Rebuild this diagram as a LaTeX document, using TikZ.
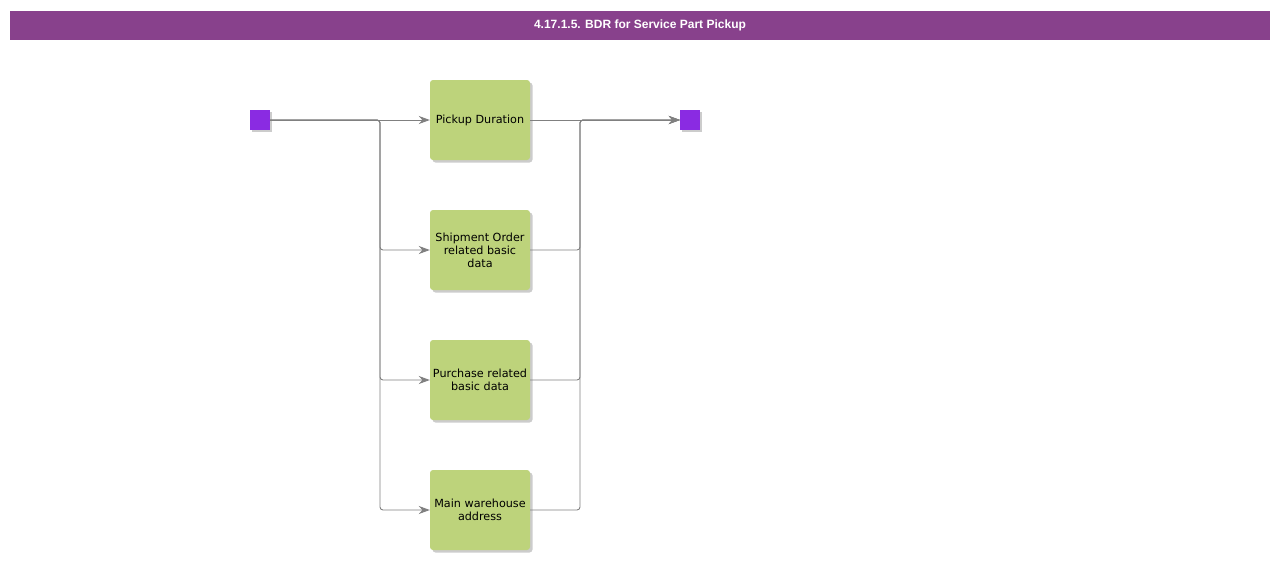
\documentclass[tikz,border=0pt]{standalone}
\usepackage{fontspec}
\setmainfont{DejaVu Sans}
\newfontfamily\titlefont{Liberation Sans}
\usetikzlibrary{arrows.meta,shadows}
\definecolor{titlebg}{RGB}{136,65,140}
\definecolor{boxgreen}{RGB}{189,211,123}
\definecolor{termviolet}{RGB}{138,43,226}
\definecolor{linegray}{RGB}{128,128,128}
\tikzset{
  taskbox/.style={draw=none, fill=boxgreen, rounded corners=3pt, minimum width=100pt, minimum height=80pt,
    align=center, font=\fontsize{11.2}{13}\selectfont, inner sep=2pt,
    drop shadow={shadow xshift=2.5pt, shadow yshift=-2.5pt, fill=black, opacity=0.2}},
  terminal/.style={draw=none, fill=termviolet, minimum width=20pt, minimum height=20pt, inner sep=0pt,
    drop shadow={shadow xshift=2pt, shadow yshift=-2pt, fill=black, opacity=0.2}},
  flow/.style={draw=linegray, line width=0.9pt, rounded corners=3pt, -{Stealth[length=11pt,width=8pt]}},
}
\begin{document}
\begin{tikzpicture}[x=1pt,y=-1pt]
\useasboundingbox (0,0) rectangle (1280,560);
\fill[white] (0,0) rectangle (1280,560);
\node[fill=titlebg, minimum width=1260pt, minimum height=29pt, inner sep=0pt, text=white,
  font=\titlefont\bfseries\fontsize{12}{14}\selectfont] (title) at (640,25) {4.17.1.5. BDR for Service Part Pickup};
\node[terminal] (s) at (260,120) {};
\node[terminal] (e) at (690,120) {};
\node[taskbox] (b1) at (480,120) {Pickup Duration};
\node[taskbox] (b2) at (480,250) {Shipment Order\\related basic\\data};
\node[taskbox] (b3) at (480,380) {Purchase related\\basic data};
\node[taskbox] (b4) at (480,510) {Main warehouse\\address};
\coordinate (splitL) at (380,120);
\coordinate (joinR) at (580,120);
\draw[flow] (s.east) -- (b1.west);
\draw[flow] (s.east) -- (splitL) |- (b2.west);
\draw[flow] (s.east) -- (splitL) |- (b3.west);
\draw[flow] (s.east) -- (splitL) |- (b4.west);
\draw[flow] (b1.east) -- (e.west);
\draw[flow] (b2.east) -| (joinR) -- (e.west);
\draw[flow] (b3.east) -| (joinR) -- (e.west);
\draw[flow] (b4.east) -| (joinR) -- (e.west);
\end{tikzpicture}
\end{document}
